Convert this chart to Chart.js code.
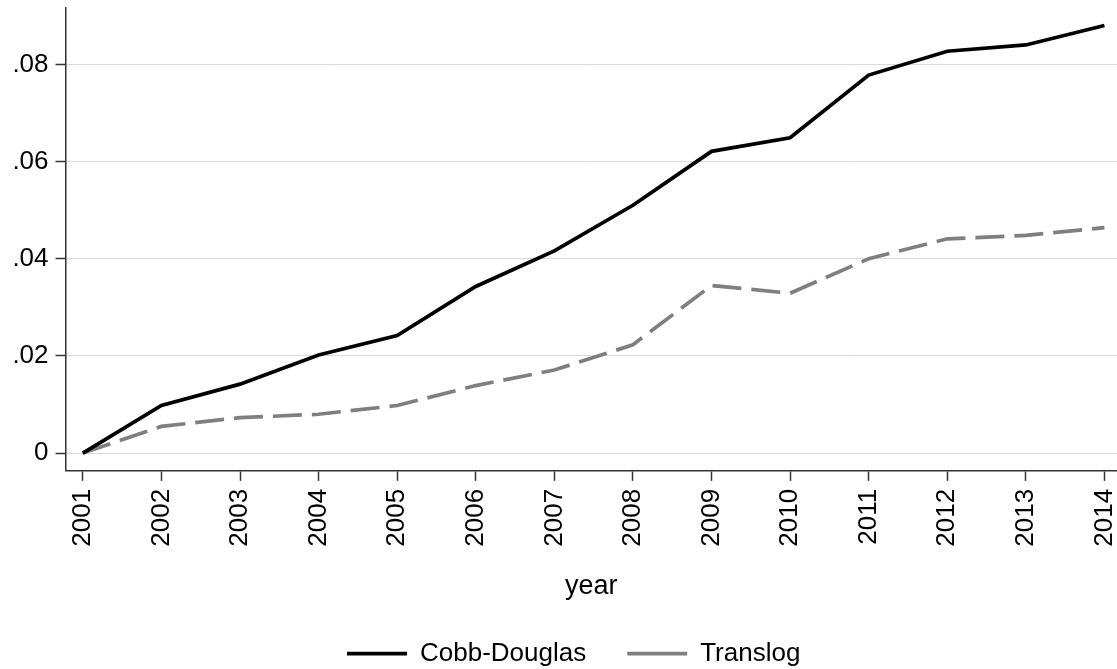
<!DOCTYPE html>
<html>
<head>
<meta charset="utf-8">
<title>Cobb-Douglas vs Translog</title>
<script src="https://cdn.jsdelivr.net/npm/chart.js@4.4.1/dist/chart.umd.min.js"></script>
<style>
  html, body { margin: 0; padding: 0; background: #fff; }
  #wrap { width: 1117px; height: 669px; position: relative; }
</style>
</head>
<body>
<div id="wrap"><canvas id="tfpChart"></canvas></div>
<script>
// data
var years = [2001, 2002, 2003, 2004, 2005, 2006, 2007, 2008, 2009, 2010, 2011, 2012, 2013, 2014];
var cobbDouglas = [0, 0.0098, 0.0142, 0.0202, 0.0242, 0.0343, 0.0416, 0.0510, 0.0621, 0.0649, 0.0778, 0.0827, 0.0840, 0.0880];
var translog = [0, 0.0055, 0.0073, 0.0080, 0.0098, 0.0139, 0.0171, 0.0223, 0.0345, 0.0329, 0.0400, 0.0441, 0.0448, 0.0464];
var yTicks = [0, 0.02, 0.04, 0.06, 0.08];
var yTickLabels = ["0", ".02", ".04", ".06", ".08"];

var axisColor = "#333333";
var font = "'Liberation Sans', Arial, sans-serif";

Chart.defaults.font.family = font;
Chart.defaults.color = "#000";

var ctx = document.getElementById("tfpChart").getContext("2d");

var tfpChart = new Chart(ctx, {
  type: "line",
  data: {
    labels: years,
    datasets: [
      {
        label: "Cobb-Douglas",
        data: cobbDouglas,
        borderColor: "#000000",
        backgroundColor: "#000000",
        borderWidth: 3.7,
        pointRadius: 0,
        tension: 0,
        fill: false
      },
      {
        label: "Translog",
        data: translog,
        borderColor: "#7f7f7f",
        backgroundColor: "#7f7f7f",
        borderWidth: 3.7,
        borderDash: [29, 10],
        pointRadius: 0,
        tension: 0,
        fill: false
      }
    ]
  },
  options: {
    responsive: true,
    maintainAspectRatio: false,
    animation: false,
    layout: {
      // negative right padding only nudges the legend to the right
      padding: { left: 5.4, right: -25, top: 8, bottom: -7.7 }
    },
    plugins: {
      tooltip: { enabled: false },
      legend: {
        position: "bottom",
        labels: {
          usePointStyle: true,
          pointStyle: "line",
          pointStyleWidth: 60,
          padding: 41,
          color: "#000",
          font: { size: 26 }
        }
      }
    },
    scales: {
      x: {
        type: "linear",
        min: 2000.78,
        max: 2014.16,
        border: { display: true, color: axisColor, width: 1.5 },
        grid: {
          drawOnChartArea: false,
          drawTicks: true,
          tickLength: 10,
          tickColor: axisColor,
          tickWidth: 1.5
        },
        ticks: {
          autoSkip: false,
          minRotation: 90,
          maxRotation: 90,
          padding: 8,
          color: "#000",
          font: { size: 26 },
          callback: function (value) { return String(value); }
        },
        afterBuildTicks: function (scale) {
          scale.ticks = years.map(function (v) { return { value: v }; });
        },
        afterFit: function (scale) {
          scale.paddingLeft = 0;
          scale.paddingRight = 0;
        },
        title: {
          display: true,
          text: "year",
          color: "#000",
          font: { size: 27, lineHeight: 1 },
          padding: { top: 18, bottom: 0 }
        }
      },
      y: {
        min: -0.00365,
        max: 0.0916,
        border: { display: true, color: axisColor, width: 1.5 },
        grid: {
          color: "#d9d9d9",
          lineWidth: 1,
          drawTicks: true,
          tickLength: 10,
          tickColor: axisColor,
          tickWidth: 1.5
        },
        ticks: {
          padding: 7,
          color: "#000",
          font: { size: 26 },
          callback: function (value, index) { return yTickLabels[index]; }
        },
        afterBuildTicks: function (scale) {
          scale.ticks = yTicks.map(function (v) { return { value: v }; });
        },
        afterFit: function (scale) {
          scale.paddingTop = 0;
          scale.paddingBottom = 0;
        }
      }
    }
  }
});
</script>
</body>
</html>
